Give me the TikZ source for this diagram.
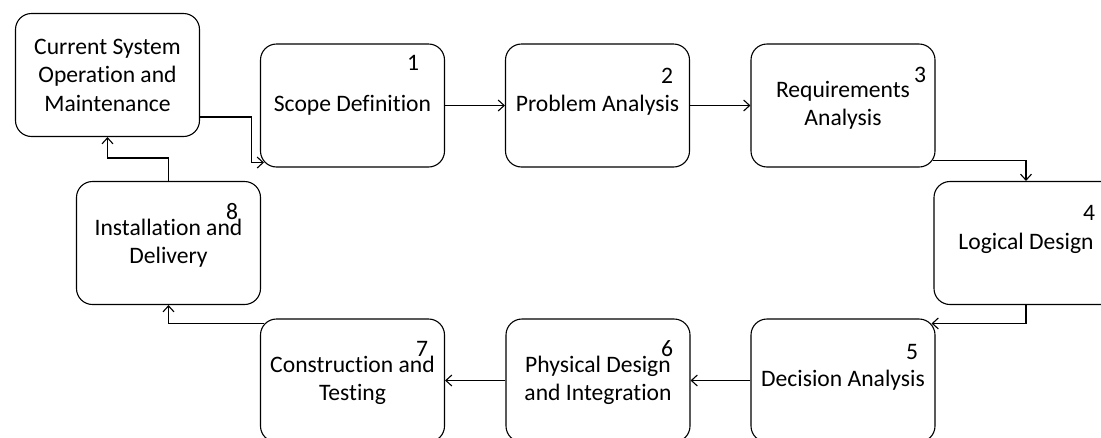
\documentclass[tikz,border=0pt]{standalone}
\usepackage{fontspec}
\setmainfont{Carlito}[Ligatures=NoCommon]
\usetikzlibrary{arrows.meta}

\begin{document}
\begin{tikzpicture}[x=1pt,y=-1pt,line width=1.1pt,
        stage/.style={draw,rounded corners=16pt,minimum width=184pt,minimum height=123pt,
            inner sep=0pt,align=center,font=\fontsize{23.6}{28.5}\selectfont},
        num/.style={inner sep=0pt,font=\fontsize{23.6}{28.5}\selectfont},
        >={Straight Barb[length=6pt,width=11pt]}]
            \useasboundingbox (0,0) rectangle (1101,437);

            \node[stage] (CS) at (107.5,75) {Current System\\Operation and\\Maintenance};
            \node[stage] (S1) at (352.5,105.5) {Scope Definition};
            \node[stage] (S2) at (597.5,105.5) {Problem Analysis};
            \node[stage] (S3) at (843,105.5) {Requirements\\Analysis};
            \node[stage] (S4) at (1026,243) {Logical Design};
            \node[stage] (S5) at (843,380.5) {Decision Analysis};
            \node[stage] (S6) at (598,380.5) {Physical Design\\and Integration};
            \node[stage] (S7) at (352.5,380.5) {Construction and\\Testing};
            \node[stage] (S8) at (168.5,243) {Installation and\\Delivery};

            % step numbers
            \node[num] (N1) at (413,63) {1};
            \node[num] (N2) at (667,76) {2};
            \node[num] (N3) at (920,75) {3};
            \node[num] (N4) at (1089,213) {4};
            \node[num] (N5) at (912,352) {5};
            \node[num] (N6) at (667,349) {6};
            \node[num] (N7) at (422,349) {7};
            \node[num] (N8) at (232,212) {8};

            \draw[->] ([yshift=-42pt]CS.east) -- ++(51,0) |- ([xshift=4pt,yshift=5pt]S1.south west);
            \draw[->] (S1) -- (S2); \draw[->] (S2) -- (S3);
            \draw[->] ([xshift=-3pt,yshift=-55pt]S3.east) -| (S4.north);
            \draw[->] (S4.south) |- ([xshift=-4pt,yshift=-5pt]S5.north east);
            \draw[->] (S5) -- (S6); \draw[->] (S6) -- (S7);
            \draw[->] ([xshift=4pt,yshift=-5pt]S7.north west) -| (S8.south);
            \draw[->] (S8.north) -- ++(0,-23) -| (CS.south);
        \end{tikzpicture}
\end{document}
